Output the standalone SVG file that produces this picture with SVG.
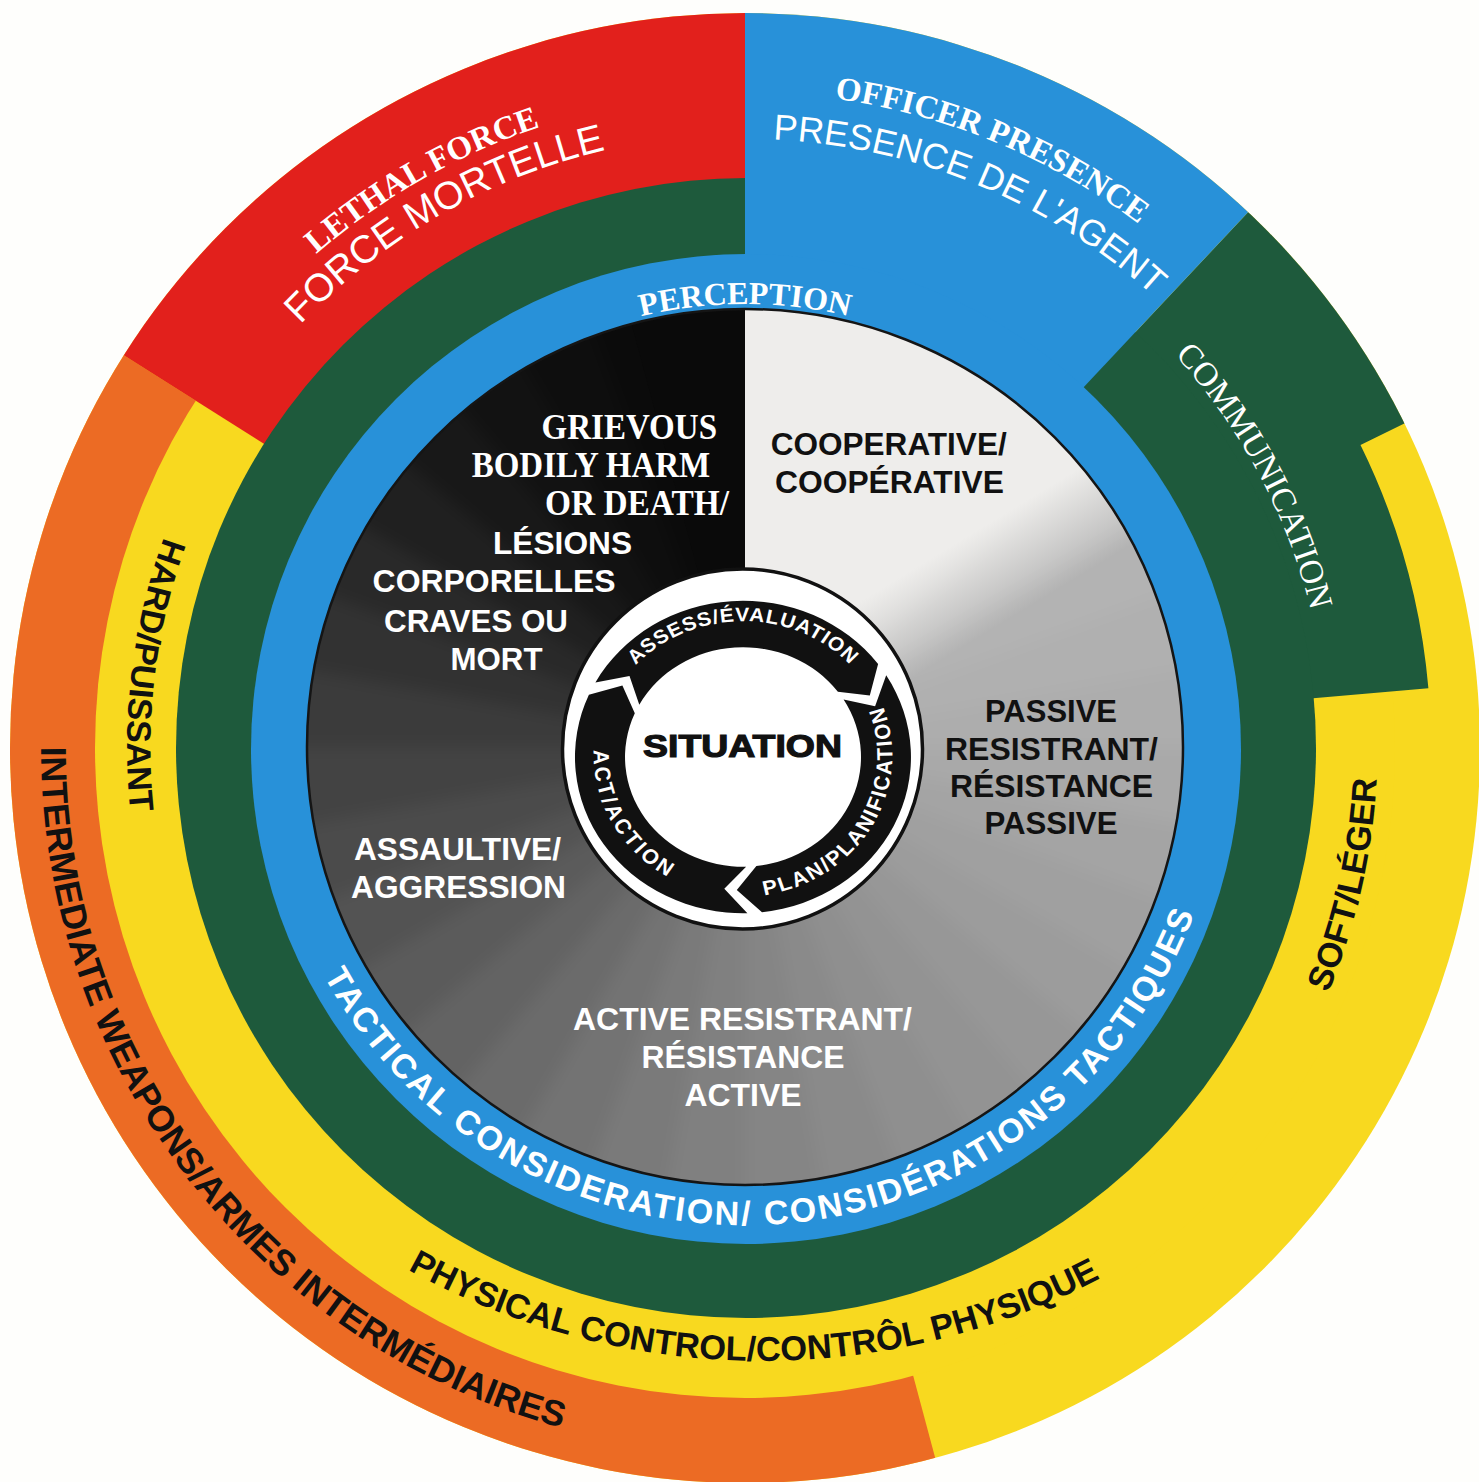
<svg xmlns="http://www.w3.org/2000/svg" width="1479" height="1482" viewBox="0 0 1479 1482">
<defs>
<style>
.serif{font-family:"Liberation Serif","Times New Roman",serif;font-weight:bold;fill:#fff}
.serifr{font-family:"Liberation Serif","Times New Roman",serif;font-weight:normal;fill:#fff}
.sans{font-family:"Liberation Sans",Arial,sans-serif;font-weight:bold}
.sansr{font-family:"Liberation Sans",Arial,sans-serif;font-weight:normal;fill:#fff}
.w{fill:#fff}
.k{fill:#111}
.red{fill:#e2201c}.blue{fill:#2891d9}.green{fill:#1e5a3c}.yellow{fill:#f8d91f}.orange{fill:#ec6b24}
</style>
<clipPath id="outer"><circle cx="745" cy="748" r="735"/></clipPath>
<clipPath id="grayclip"><circle cx="745" cy="747" r="438"/></clipPath>
<clipPath id="quad"><rect x="745" y="300" width="460" height="447"/></clipPath>
<filter id="soft" x="-20%" y="-20%" width="140%" height="140%" color-interpolation-filters="sRGB"><feGaussianBlur stdDeviation="8"/></filter>
<linearGradient id="whiteGrad" gradientUnits="userSpaceOnUse" x1="1022" y1="503" x2="1070" y2="582">
  <stop offset="0" stop-color="#eeedeb" stop-opacity="1"/>
  <stop offset="1" stop-color="#eeedeb" stop-opacity="0"/>
</linearGradient>
<path id="wedge" d="M745,747 L745,277 A470,470 0 0 1 830.6,284.8 Z"/>
<path id="tpLethal" d="M167.7,1075.9 A664,664 0 0 1 1322.3,420.1"/>
<path id="tpMortelle" d="M211.9,1052.7 A614,614 0 0 1 1278.1,443.3"/>
<path id="tpOfficer" d="M133,495.7 A662,662 0 0 1 1357,1000.3"/>
<path id="tpAgent" d="M180.8,516.1 A610,610 0 0 1 1309.2,979.9"/>
<path id="tpPerception" d="M301,748 A444,444 0 0 1 1189,748"/>
<path id="tpComm" d="M468.5,229.1 A588,588 0 0 1 1021.5,1266.9"/>
<path id="tpPhysical" d="M28.1,626 A734,734 0 0 0 1495.9,644"/>
<path id="tpInter" d="M317.4,188.7 A704,704 0 0 0 1172.6,1307.3"/>
<path id="tpHard" d="M820.3,134.6 A618,618 0 0 0 669.7,1361.4"/>
<path id="tpSoft" d="M603.5,1371.1 A639,639 0 0 0 886.5,124.9"/>
<path id="tpTactical" d="M266.3,783.2 A480,480 0 0 0 1223.7,712.8"/>
<path id="tpAssess" d="M-146,0 A146,146 0 0 1 146,0"/>
<path id="tpPlan" d="M-76,131.6 A152,152 0 0 0 76,-131.6"/>
<path id="tpAct" d="M-73.7,-132.9 A152,152 0 0 0 73.7,132.9"/>
</defs>
<rect width="1479" height="1482" fill="#fefefc"/>

<g id="outer-rings" clip-path="url(#outer)">
  <rect class="yellow" width="1479" height="1482"/>
  <path id="intermediate-weapons" class="orange" d="M745,748 L-15.8,267 L-155,748 L166.5,1437.4 L745,1648 L977.9,1617.3 Z"/>
  <circle class="yellow" cx="745" cy="748" r="650"/>
  <path id="lethal-force" class="red" d="M745,748 L745,-152 L295,-31.4 L-15.8,267 Z"/>
  <path id="communication" class="green" d="M745,748 L1361,91.9 L1552.6,350.6 L1360.5,445.1 A686,686 0 0 1 1428.4,688.2 Z"/>
  <circle class="green" cx="746" cy="748" r="570"/>
  <path id="officer-presence" class="blue" d="M745,748 L745,-152 L1361,91.9 Z"/>
  <circle class="blue" cx="746" cy="749" r="495"/>
</g>

<g id="situation-disk" clip-path="url(#grayclip)">
  <g filter="url(#soft)">
    <use href="#wedge" fill="#e6e6e4"/>
    <use href="#wedge" transform="rotate(10 745 747)" fill="#e0e0de"/>
    <use href="#wedge" transform="rotate(20 745 747)" fill="#d6d6d5"/>
    <use href="#wedge" transform="rotate(30 745 747)" fill="#c8c8c8"/>
    <use href="#wedge" transform="rotate(40 745 747)" fill="#bcbcbc"/>
    <use href="#wedge" transform="rotate(50 745 747)" fill="#b6b6b6"/>
    <use href="#wedge" transform="rotate(60 745 747)" fill="#b3b3b3"/>
    <use href="#wedge" transform="rotate(70 745 747)" fill="#b0b0b0"/>
    <use href="#wedge" transform="rotate(80 745 747)" fill="#adadad"/>
    <use href="#wedge" transform="rotate(90 745 747)" fill="#a9a9a9"/>
    <use href="#wedge" transform="rotate(100 745 747)" fill="#a4a4a4"/>
    <use href="#wedge" transform="rotate(110 745 747)" fill="#a0a0a0"/>
    <use href="#wedge" transform="rotate(120 745 747)" fill="#9c9c9c"/>
    <use href="#wedge" transform="rotate(130 745 747)" fill="#979797"/>
    <use href="#wedge" transform="rotate(140 745 747)" fill="#939393"/>
    <use href="#wedge" transform="rotate(150 745 747)" fill="#8f8f8f"/>
    <use href="#wedge" transform="rotate(160 745 747)" fill="#8a8a8a"/>
    <use href="#wedge" transform="rotate(170 745 747)" fill="#858585"/>
    <use href="#wedge" transform="rotate(180 745 747)" fill="#808080"/>
    <use href="#wedge" transform="rotate(190 745 747)" fill="#7a7a7a"/>
    <use href="#wedge" transform="rotate(200 745 747)" fill="#737373"/>
    <use href="#wedge" transform="rotate(210 745 747)" fill="#6b6b6b"/>
    <use href="#wedge" transform="rotate(220 745 747)" fill="#636363"/>
    <use href="#wedge" transform="rotate(230 745 747)" fill="#5b5b5b"/>
    <use href="#wedge" transform="rotate(240 745 747)" fill="#535353"/>
    <use href="#wedge" transform="rotate(250 745 747)" fill="#4b4b4b"/>
    <use href="#wedge" transform="rotate(260 745 747)" fill="#434343"/>
    <use href="#wedge" transform="rotate(270 745 747)" fill="#3b3b3b"/>
    <use href="#wedge" transform="rotate(280 745 747)" fill="#323232"/>
    <use href="#wedge" transform="rotate(290 745 747)" fill="#292929"/>
    <use href="#wedge" transform="rotate(300 745 747)" fill="#202020"/>
    <use href="#wedge" transform="rotate(310 745 747)" fill="#181818"/>
    <use href="#wedge" transform="rotate(320 745 747)" fill="#121212"/>
    <use href="#wedge" transform="rotate(330 745 747)" fill="#0e0e0e"/>
    <use href="#wedge" transform="rotate(340 745 747)" fill="#0b0b0b"/>
    <use href="#wedge" transform="rotate(350 745 747)" fill="#0a0a0a"/>
  </g>
  <path d="M745,747 L631.6,323.9 A438,438 0 0 1 745,309 Z" fill="#0a0a0a"/>
  <g clip-path="url(#quad)">
    <rect x="745" y="300" width="460" height="447" fill="url(#whiteGrad)"/>
  </g>
</g>
<circle cx="745" cy="747" r="438" fill="none" stroke="#151515" stroke-width="2.5"/>

<g id="cycle">
  <circle cx="742.5" cy="749" r="180" fill="#fff" stroke="#111" stroke-width="3.5"/>
  <g transform="translate(743,757) scale(1,0.93)">
    <path id="assess" fill="#111" d="M-147.6,-80.2 A168,168 0 0 1 135.1,-99.9 L126.8,-66 L94.9,-70.2 A118,118 0 0 0 -103.7,-56.3 L-113.5,-87.1 Z"/>
    <path id="plan" fill="#111" d="M143.2,-87.8 A168,168 0 0 1 19,166.9 L-6.2,142.9 L13.4,117.2 A118,118 0 0 0 100.6,-61.7 L132.1,-54.7 Z"/>
    <path id="act" fill="#111" d="M4.4,167.9 A168,168 0 0 1 -154.1,-67 L-120.6,-76.8 L-108.2,-47 A118,118 0 0 0 3.1,118 L-18.7,141.8 Z"/>
    <text class="sans w" font-size="21" letter-spacing="1" text-anchor="middle"><textPath href="#tpAssess" startOffset="50%">ASSESS/ÉVALUATION</textPath></text>
    <text class="sans w" font-size="22" letter-spacing="2" text-anchor="middle"><textPath href="#tpPlan" startOffset="50%">PLAN/PLANIFICATION</textPath></text>
    <text class="sans w" font-size="22" letter-spacing="3" text-anchor="middle"><textPath href="#tpAct" startOffset="50%">ACT/ACTION</textPath></text>
  </g>
  <text class="sans k" x="643" y="757" font-size="32" textLength="199" lengthAdjust="spacingAndGlyphs" stroke="#111" stroke-width="1.2">SITUATION</text>
</g>

<g id="behaviour-labels">
  <g id="grievous">
    <text class="serif" x="541.5" y="439" font-size="35" textLength="175.5" lengthAdjust="spacingAndGlyphs">GRIEVOUS</text>
    <text class="serif" x="471.7" y="477" font-size="35" textLength="238.5" lengthAdjust="spacingAndGlyphs">BODILY HARM</text>
    <text class="serif" x="545" y="515" font-size="35" textLength="184" lengthAdjust="spacingAndGlyphs">OR DEATH/</text>
    <text class="sans w" x="493" y="554" font-size="32" textLength="139" lengthAdjust="spacingAndGlyphs">LÉSIONS</text>
    <text class="sans w" x="372.6" y="592" font-size="32" textLength="243" lengthAdjust="spacingAndGlyphs">CORPORELLES</text>
    <text class="sans w" x="384" y="632" font-size="32" textLength="184" lengthAdjust="spacingAndGlyphs">CRAVES OU</text>
    <text class="sans w" x="450.5" y="670" font-size="32" textLength="92" lengthAdjust="spacingAndGlyphs">MORT</text>
  </g>
  <g id="cooperative">
    <text class="sans k" x="770.7" y="455" font-size="32" textLength="236" lengthAdjust="spacingAndGlyphs">COOPERATIVE/</text>
    <text class="sans k" x="775" y="493" font-size="32" textLength="229" lengthAdjust="spacingAndGlyphs">COOPÉRATIVE</text>
  </g>
  <g id="passive">
    <text class="sans k" x="985" y="722" font-size="32" textLength="132" lengthAdjust="spacingAndGlyphs">PASSIVE</text>
    <text class="sans k" x="945" y="760" font-size="32" textLength="213" lengthAdjust="spacingAndGlyphs">RESISTRANT/</text>
    <text class="sans k" x="950" y="797" font-size="32" textLength="203" lengthAdjust="spacingAndGlyphs">RÉSISTANCE</text>
    <text class="sans k" x="984.5" y="834" font-size="32" textLength="133" lengthAdjust="spacingAndGlyphs">PASSIVE</text>
  </g>
  <g id="assaultive">
    <text class="sans w" x="354" y="860" font-size="32" textLength="207" lengthAdjust="spacingAndGlyphs">ASSAULTIVE/</text>
    <text class="sans w" x="351" y="898" font-size="32" textLength="215" lengthAdjust="spacingAndGlyphs">AGGRESSION</text>
  </g>
  <g id="active">
    <text class="sans w" x="573" y="1030" font-size="32" textLength="339" lengthAdjust="spacingAndGlyphs">ACTIVE RESISTRANT/</text>
    <text class="sans w" x="641.5" y="1068" font-size="32" textLength="203" lengthAdjust="spacingAndGlyphs">RÉSISTANCE</text>
    <text class="sans w" x="684.5" y="1105.5" font-size="32" textLength="117" lengthAdjust="spacingAndGlyphs">ACTIVE</text>
  </g>
</g>

<g id="ring-labels" text-anchor="middle">
  <text class="serif" font-size="33"><textPath href="#tpLethal" startOffset="50%">LETHAL FORCE</textPath></text>
  <text class="sansr" font-size="39"><textPath href="#tpMortelle" startOffset="50%">FORCE MORTELLE</textPath></text>
  <text class="serif" font-size="33"><textPath href="#tpOfficer" startOffset="50%">OFFICER PRESENCE</textPath></text>
  <text class="sansr" font-size="36"><textPath href="#tpAgent" startOffset="50%">PRESENCE DE L'AGENT</textPath></text>
  <text class="serif" font-size="32"><textPath href="#tpPerception" startOffset="50%">PERCEPTION</textPath></text>
  <text class="serifr" font-size="34"><textPath href="#tpComm" startOffset="50%">COMMUNICATION</textPath></text>
  <text class="sans k" font-size="34.5"><textPath href="#tpPhysical" startOffset="50%">PHYSICAL CONTROL/CONTRÔL PHYSIQUE</textPath></text>
  <text class="sans k" font-size="36"><textPath href="#tpInter" startOffset="50%">INTERMEDIATE WEAPONS/ARMES INTERMÉDIAIRES</textPath></text>
  <text class="sans k" font-size="34"><textPath href="#tpHard" startOffset="50%">HARD/PUISSANT</textPath></text>
  <text class="sans k" font-size="34.5"><textPath href="#tpSoft" startOffset="50%">SOFT/LÉGER</textPath></text>
  <text class="sans w" font-size="34" letter-spacing="2.3"><textPath href="#tpTactical" startOffset="50%">TACTICAL CONSIDERATION/ CONSIDÉRATIONS TACTIQUES</textPath></text>
</g>
</svg>
